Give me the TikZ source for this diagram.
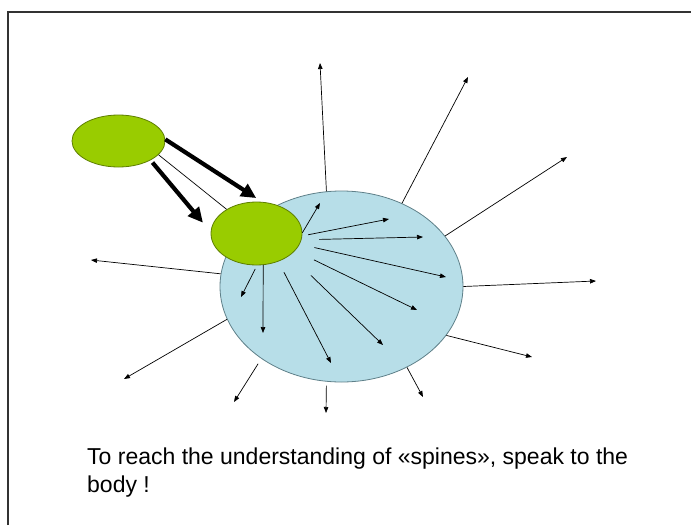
\documentclass[tikz,border=0pt]{standalone}
\usepackage{fontspec}
\setmainfont{Liberation Sans}
\usetikzlibrary{arrows.meta,shapes.geometric}
\definecolor{leaf}{HTML}{99CC00}
\definecolor{leafline}{HTML}{5E7F00}
\definecolor{cell}{HTML}{B7DEE8}
\definecolor{cellline}{HTML}{5F8089}

\begin{document}
\begin{tikzpicture}
    [
    x=1pt,y=-1pt,
    blob/.style={ellipse,draw=leafline,fill=leaf,line width=0.8pt,inner sep=0pt},
    body/.style={ellipse,draw=cellline,fill=cell,line width=0.8pt,inner sep=0pt},
    edge/.style={-{Triangle[length=6pt,width=4.5pt]},line width=0.7pt},
    push/.style={-{Triangle[length=15pt,width=14pt]},line width=4.2pt}
    ]
\useasboundingbox (0,0) rectangle (691,525);
\draw[line width=1.2pt,draw=black!80] (8,525) -- (8,12) -- (691,12);
\node[body,minimum width=243pt,minimum height=191pt] (3) at (341.5,286.5) {};
\node[blob,minimum width=93pt,minimum height=52pt] (1) at (118.5,141) {};
\node[blob,minimum width=91pt,minimum height=63pt] (2) at (256.5,233.5) {};
\coordinate (o1) at (320,63);
\coordinate (o2) at (468,77);
\coordinate (o3) at (567,157);
\coordinate (o4) at (596,281);
\coordinate (o5) at (532,357);
\coordinate (o6) at (423,397);
\coordinate (o7) at (326,413);
\coordinate (o8) at (234,402);
\coordinate (o9) at (124,379);
\coordinate (o10) at (91,260);
\coordinate (i1) at (320,203);
\coordinate (i2) at (389,219);
\coordinate (i3) at (423,237);
\coordinate (i4) at (446,277);
\coordinate (i5) at (417,310);
\coordinate (i6) at (383,345);
\coordinate (i7) at (331,363);
\coordinate (i8) at (263,333);
\coordinate (i9) at (241,297);
\draw[edge] (3.99) -- (o1);
\draw[edge] (3.54) -- (o2);
\draw[edge] (3.26) -- (o3);
\draw[edge] (3.0) -- (o4);
\draw[edge] (3.-25) -- (o5);
\draw[edge] (3.-51) -- (o6);
\draw[edge,shorten <=4pt] (3.-99) -- (o7);
\draw[edge,shorten <=6pt] (3.-138) -- (o8);
\draw[edge] (3.-164) -- (o9);
\draw[edge] (3.174) -- (o10);
\draw[edge] (2.1) -- (i1);
\draw[edge,shorten <=6pt] (2.-3) -- (i2);
\draw[edge,shorten <=18pt] (2.-8) -- (i3);
\draw[edge,shorten <=15pt] (2.-14) -- (i4);
\draw[edge,shorten <=21pt] (2.-24) -- (i5);
\draw[edge,shorten <=29pt] (2.-33) -- (i6);
\draw[edge,shorten <=12pt] (2.-52) -- (i7);
\draw[edge] (2.-78) -- (i8);
\draw[edge,shorten <=4pt] (2.-89) -- (i9);
\draw[line width=0.7pt] (1.-19) -- (2.141);
\draw[push,shorten >=7pt] (1.2) -- (2.80);
\draw[push,shorten <=3pt,shorten >=12pt] (1.-31) -- (2.178);
\node[anchor=base west,align=left,inner sep=0pt,font=\fontsize{23}{28}\selectfont] (caption) at (87,492)
    {To reach the understanding of «spines», speak to the\\body !};
\end{tikzpicture}
\end{document}
